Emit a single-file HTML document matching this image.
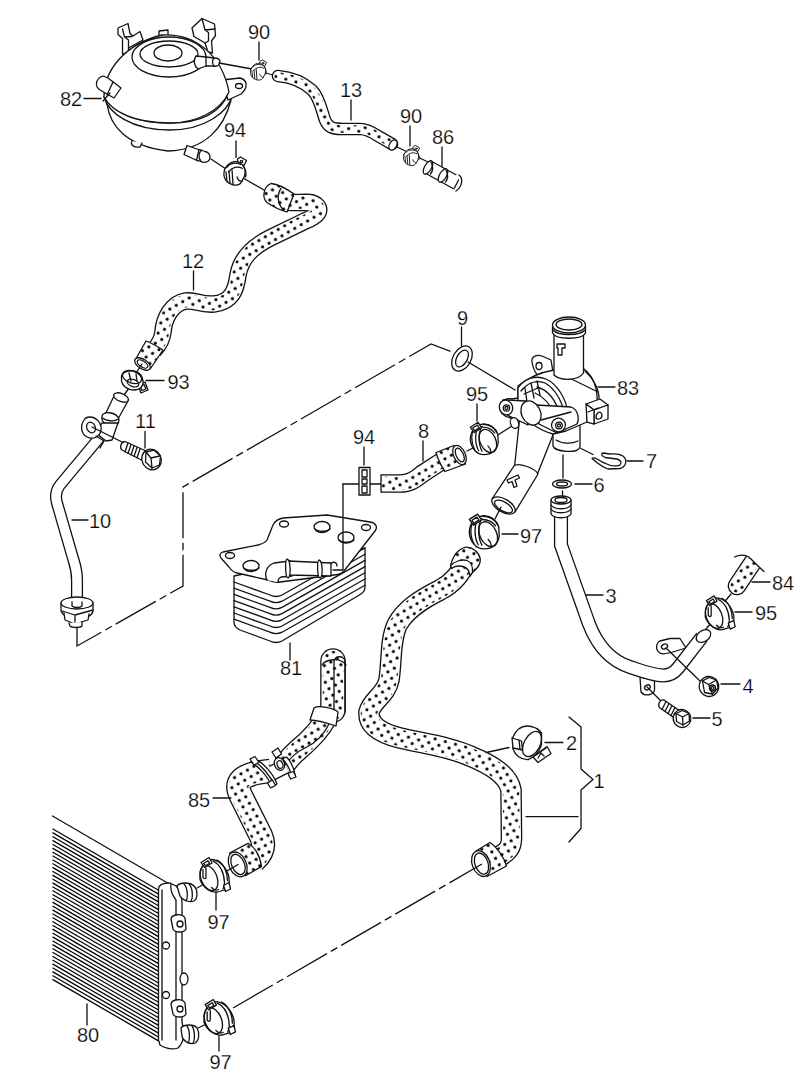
<!DOCTYPE html>
<html><head><meta charset="utf-8">
<style>
html,body{margin:0;padding:0;background:#fff;width:800px;height:1088px;overflow:hidden}
svg{position:absolute;left:0;top:0}
.l{fill:none;stroke:#111;stroke-width:1.3;stroke-linejoin:round;stroke-linecap:round}
.w{fill:#fff;stroke:#111;stroke-width:1.3;stroke-linejoin:round}
.t{font-family:"Liberation Sans",sans-serif;font-size:20px;fill:#000;stroke:#fff;stroke-width:0.25}
.d{fill:none;stroke:#111;stroke-width:1.3;stroke-dasharray:46 4.5 7.5 4.5}
</style></head><body>
<svg width="800" height="1088" viewBox="0 0 800 1088">
<defs>
<pattern id="dots" width="10.5" height="10.5" patternUnits="userSpaceOnUse" patternTransform="rotate(15)">
<rect width="10.5" height="10.5" fill="#fff"/>
<circle cx="2.6" cy="2.6" r="1.55" fill="#000"/>
<circle cx="7.85" cy="7.85" r="1.55" fill="#000"/>
</pattern>
<g id="clp" class="l">
<path class="w" d="M-14.5,-1 C-13.5,-9 -8,-14.5 -3,-15 C5,-14.5 12.5,-7 14.5,3 C15.5,9 13.5,13 10,15.5 L3,17.5 C-4,18.5 -11.5,13 -14.5,5 Z"/>
<ellipse cx="-5.5" cy="3.5" rx="8" ry="13.2" transform="rotate(-22 -5.5 3.5)"/>
<path d="M-1.5,-13.5 C5.5,-10 9.5,-2 10,8 C10,11 9.5,13 8.5,14.5 M2.5,-14.5 C9,-11 13,-3 13,6"/>
<path d="M-11.5,-5 L-11.5,3 C-10.5,4.5 -9,4.5 -8.5,3 L-8.5,-6.5 M-3,13 C-1,15.5 2,16 4,15"/>
<path class="w" d="M-13.5,-12 L-5.5,-17 L-2.5,-11.5 L-10,-7 Z"/>
<path d="M-11,-11 L-6.5,-13.8 L-5,-11.2 L-9,-8.7 Z"/>
<path class="w" d="M9,11 L14.5,8 L16,14.5 L11,17 Z"/>
</g>
<g id="c94" transform="translate(-234.5 -171)">
<g class="l">
<path class="w" d="M237.5,159 L240.5,157 L246.5,160.5 L244,165.5 L238,163 Z"/>
<circle cx="241.5" cy="161.5" r="1.2"/>
<path class="w" d="M224.5,170 C222.5,177 225.5,183 234,185 C238,185.5 241,183.5 242,181 L244.5,176 C246,170 244,165 240,163 C235,160 228,162 224.5,170 Z"/>
<path d="M226.5,167.5 C230,163 236,162 240.5,164.5 M228.5,172 C232,167 238,166 242.5,168.5"/>
<path d="M226,172 L227,181 M229,171 L230,183 M232,170 L233,184"/>
<path d="M243,166 C246,169 246.5,174 245.5,177 M237,177 C238,180 240,181.5 242,181"/>
</g>
</g>
<g id="clp2" class="l">
<path class="w" d="M-14,2 C-14,-8 -8,-14 0,-14.5 C7,-14 12,-10 14,-4 L14.5,4 C14,12 8,17 0,17 C-8,17 -13,10 -14,2 Z"/>
<path d="M-9.5,-11 C-13.5,-5 -13.5,5 -9.5,12 M-5.5,-12 C-9.5,-6 -9.5,6 -5.5,13 M-2,-12 C-6,-6 -6,6 -2,13.5"/>
<ellipse cx="4" cy="3" rx="8" ry="12.5" transform="rotate(-25 4 3)"/>
<path d="M-1,-14 C5,-14 10,-11 13,-6 M-1.5,-11 C4,-11 8,-9 11,-5"/>
<path d="M4,8 C6,10 7,12 7,14"/>
<path class="w" d="M-14,-11 L-6,-16 L-2.5,-10.5 L-10,-5.5 Z"/>
<path d="M-11.5,-10.2 L-6.8,-13.2 L-4.8,-10.3 L-9.5,-7.3 Z"/>
</g>
</defs>


<!-- TANK 82 -->
<g class="l">
<!-- brackets -->
<path class="w" d="M118,28 L128,23.5 L130,33.5 L133,36 L140,31.5 L143,40 L128.5,48 L128.5,53 L122.5,54 L122.5,38.5 L118,34.5 Z"/>
<path d="M122.5,29 L124.5,37 L128.5,40 L128.5,48 M124.5,37 L132,36.5"/>
<path class="w" d="M192,28 L202,18.5 L214.5,24 L215.5,35.5 L211.5,41 L212.5,53 L208,52 L205,43 L194,36.5 Z"/>
<path d="M202,18.5 L205,30 L208.5,32.5 L208.5,41 L205,43 M205,30 L215,29"/>
<!-- nub top -->
<path class="w" d="M159,36 L159,31 L168,30 L168,36"/>
<!-- lower bowl -->
<path class="w" d="M107,104 C110,125 125,146 168,151 C205,150 224,128 231,100 Z"/>
<!-- band -->
<path class="w" d="M104,97 C108,112 130,130 170,130 C205,130 228,112 232,96 C232,90 230,88 229,87 L110,90 Z"/>
<path d="M105,99 C115,112 135,123 170,123 C205,123 222,110 229,92"/>
<!-- ear right -->
<path class="w" d="M222,80 L240,78 C248,80 248,88 241,94 L228,100 Z"/>
<ellipse cx="239" cy="86" rx="3.5" ry="2.5"/>
<!-- dome -->
<path class="w" d="M104,97 C104,70 125,44 162,35 C195,33 222,55 229,92 C220,112 195,123 170,123 C135,123 112,112 104,97 Z"/>
<!-- cap -->
<ellipse class="w" cx="169" cy="57" rx="37" ry="20"/>
<ellipse cx="169" cy="54" rx="29" ry="13"/>
<ellipse cx="168" cy="53" rx="14" ry="8"/>
<!-- left nipple 82 -->
<path class="w" d="M103,76 C96,78 94,86 100,90 L114,98 L121,88 L108,78 Z"/>
<path d="M113,82 L107,95"/>
<path d="M103,101 L110,93"/>
<!-- right nipple -->
<path class="w" d="M196,56 C193,60 194,66 198,69 L206,66 L213,66 C217,67 220,65 220,62 C220,59 218,58 214,58 L206,57 Z"/>
<path d="M206,57 L206,66 M214,58 C212,60 212,64 214,66"/>
<!-- bottom nubs -->
<path class="w" d="M132,141 C130,145 134,148 140,147 L142,143"/>
<!-- bottom nipple -->
<path class="w" d="M187,145.5 L201,150.5 L198,161 L184,154.5 Z"/>
<path class="w" d="M199,149.5 L205,151.5 C209,152 211,156 209.5,159.5 C208,162.5 204,163 201,161.5 L196.5,160 Z"/>
<path d="M201.5,150 C198.5,153 198,158 201,161.5"/>
</g>


<!-- HOSE 13 + clamps 90 + 86 -->
<g class="l">
<path d="M84,98.5 L101,98.5"/>
<path d="M219,63 L252,69 M266,73 L276,76"/>
<path d="M393,145 L430,163"/>
<path d="M259,42 L259,60 M351,100 L351,120 M410,126 L410,146 M442,147 L442,167"/>
</g>
<g>
<path d="M278,76 C290,77 303,82 312,90 C320,98 322,112 325,120 C328,127 332,129 342,129 L360,129 C366,129 372,132 378,136 L392,144" fill="none" stroke="#111" stroke-width="12.6" stroke-linecap="round"/>
<path d="M278,76 C290,77 303,82 312,90 C320,98 322,112 325,120 C328,127 332,129 342,129 L360,129 C366,129 372,132 378,136 L392,144" fill="none" stroke="#fff" stroke-width="10.0" stroke-linecap="round"/>
<path d="M278,76 C290,77 303,82 312,90 C320,98 322,112 325,120 C328,127 332,129 342,129 L360,129 C366,129 372,132 378,136 L392,144" fill="none" stroke="url(#dots)" stroke-width="7.4" stroke-linecap="round"/>
<ellipse class="w" cx="393" cy="145" rx="3.5" ry="5.5" transform="rotate(30 393 145)"/>
</g>
<!-- clamp 90 a -->
<use href="#c94" transform="translate(258 70) scale(0.72)"/>
<use href="#c94" transform="translate(411 155.5) scale(0.72)"/>
<!-- 86 connector -->
<g class="l">
<path class="w" d="M431,161 L460,177 L454,189 L425,173 Z"/>
<ellipse class="w" cx="428" cy="167.5" rx="3.5" ry="7.5" transform="rotate(30 428 167.5)"/>
<path d="M431,162 C433,166 433,171 430.5,174"/>
<ellipse class="w" cx="443" cy="175.5" rx="3.5" ry="7.5" transform="rotate(30 443 175.5)"/>
<path d="M446,170 C448,174 448,179 445.5,182"/>
<path d="M457,176 C462,178 463,186 455,190" stroke="#fff" stroke-width="3"/>
<path d="M459,175 C463,178 463,186 456,191"/>
</g>
<!-- HOSE 12 -->
<g class="l"><path d="M211,159 L226,169 M238,175 L264,190 M236,141 L236,157.5 M146,380.5 L164,380.5 M193.5,271 L193.5,290"/></g>
<path d="M286,202 C300,204 310,200 316,205 C322,210 318,216 305,221 L270,238 C252,247 241,258 238,275 C236,290 232,302 214,304 C200,305 196,300 186,301 C172,303 164,318 163,332 C162,340 158,346 154,350" fill="none" stroke="#111" stroke-width="17.6" />
<path d="M286,202 C300,204 310,200 316,205 C322,210 318,216 305,221 L270,238 C252,247 241,258 238,275 C236,290 232,302 214,304 C200,305 196,300 186,301 C172,303 164,318 163,332 C162,340 158,346 154,350" fill="none" stroke="#fff" stroke-width="15.0" />
<path d="M286,202 C300,204 310,200 316,205 C322,210 318,216 305,221 L270,238 C252,247 241,258 238,275 C236,290 232,302 214,304 C200,305 196,300 186,301 C172,303 164,318 163,332 C162,340 158,346 154,350" fill="none" stroke="url(#dots)" stroke-width="12.4" />
<path class="w" style="fill:url(#dots)" d="M271,183.5 C277,184 287,189 294,194 L287,212 C280,210 272,206 267,202.5 C262,198 263,187 271,183.5 Z"/>
<path class="l" d="M281,188.5 C277,194 277,203 283,209.5"/>
<path class="w" style="fill:url(#dots)" d="M146,341 C152,343 158,347 163,350 L150.5,368.5 L135.5,359.5 Z"/>
<ellipse class="w" cx="142.5" cy="364" rx="8.8" ry="4.8" transform="rotate(33 142.5 364)"/>
<ellipse class="l" cx="142.5" cy="364" rx="6" ry="3" transform="rotate(33 142.5 364)"/>
<g class="l"><path d="M142,364 L137,371.5 M128,389.5 L124,395"/></g>
<!-- clamp 94 top -->
<use href="#c94" transform="translate(234.5 171)"/>
<!-- clamp 93 -->
<g class="l">
<path class="w" d="M138,385 L145,382 L148,390 L141,393 Z"/>
<path d="M140,386 L144,384.5 L146,389 L142,390.5 Z"/>
<path class="w" d="M121.5,379 C121,385 127,390 134,390 C140,390 144,386 143,381 L142,377 C140,372 134,370 128,371 C123,372 121,375 121.5,379 Z"/>
<ellipse cx="132" cy="377" rx="10" ry="6" transform="rotate(20 132 377)"/>
<ellipse cx="133" cy="383" rx="6" ry="3.5" transform="rotate(20 133 383)"/>
<path d="M129,373 L131,381 M136,374 L137,381"/>
</g>
<!-- PIPE 10 -->
<path d="M100,437 L60,485 C56,490 55,496 57,503 L73.5,560 C75.5,566 77,572 77,580 L77,602" fill="none" stroke="#111" stroke-width="12.1" />
<path d="M100,437 L60,485 C56,490 55,496 57,503 L73.5,560 C75.5,566 77,572 77,580 L77,602" fill="none" stroke="#fff" stroke-width="9.5" />
<g class="l">
<path class="w" d="M113.5,397 L104.5,416 L117.5,420 L128.5,400 Z"/>
<ellipse class="w" cx="121" cy="397.5" rx="7.8" ry="4" transform="rotate(22 121 397.5)"/>
<path class="w" d="M102,416 C101,420 103,424 110,425.5 C116,426.5 119,424 119,420 L118,417 C114,412 104,411 102,416 Z"/>
<path d="M102.5,418 C106,421 114,422 118.5,419"/>
<path class="w" d="M102,423 L96,433 L106,441 L112,440 L118,423 Z"/>
<path class="w" d="M84,420 C80,426 81,434 87,437 C93,440 100,437 101,430 C102,423 96,417 90,417 C87,417 85,418 84,420 Z"/>
<ellipse cx="91" cy="427.5" rx="4.2" ry="5.5" transform="rotate(-25 91 427.5)"/>
<path d="M96,436 L104,441 L100,448"/>
<path d="M92,427 L122,442"/>
<path d="M145,431.5 L145,448 M72,520 L88,520"/>
</g>
<!-- bolt 11 -->
<g class="l">
<path class="w" d="M125,441.5 L145,450.5 L141.5,460 L122,450 C119.5,448 120.5,442 125,441.5 Z"/>
<path d="M128,443 L125,452 M131,444.5 L128,453.5 M134,446 L131,455 M137,447.5 L134,456.5 M140,449 L137,458"/>
<ellipse class="w" cx="151.5" cy="459.5" rx="9.5" ry="10.5" transform="rotate(-30 151.5 459.5)"/>
<path class="w" d="M146,452 L154,450 L160.5,456 L159.5,465 L152,468 L145.5,462 Z"/>
<path d="M146,452 L151,458 L159.5,456 M151,458 L152,468"/>
</g>
<!-- flange 10 -->
<g class="l">
<path class="w" d="M61,603 L61,611 C63,616 70,619 77,619 C85,619 92,616 93,611 L93,603 Z"/>
<ellipse class="w" cx="77" cy="603" rx="16" ry="6"/>
<path class="w" d="M64,613 L65,620 L75,624 L88,620 L89,614"/>
<path d="M62,611 L75,615 L93,610 M75,615 L75,624"/>
<path class="w" d="M69,623 L70,626 C72,628 80,628 82,626 L82,622"/>
<path d="M72,602 L72,606 C74,608 80,608 82,606 L82,602"/>
</g>
<!-- DASHED -->
<path class="d" d="M77,628 L77,646 L183,586 L183,487 L431,344 L452,352"/>

<!-- OIL COOLER 81 -->
<g class="l">
<path class="w" d="M234,576 L234,622 C234,626 236,628 240,630 L270,641 C274,643 278,643 282,641 L361,594 C364,592 365,590 365,587 L365,548 Z"/>
<path d="M234,582.0 L270,595.0 C274,597.0 278,597.0 282,595.0 L365,548.0"/>
<path d="M234,588.2 L270,601.2 C274,603.2 278,603.2 282,601.2 L365,554.2"/>
<path d="M234,594.4 L270,607.4 C274,609.4 278,609.4 282,607.4 L365,560.4"/>
<path d="M234,600.6 L270,613.6 C274,615.6 278,615.6 282,613.6 L365,566.6"/>
<path d="M234,606.8 L270,619.8 C274,621.8 278,621.8 282,619.8 L365,572.8"/>
<path d="M234,613.0 L270,626.0 C274,628.0 278,628.0 282,626.0 L365,579.0"/>
<path d="M234,619.2 L270,632.2 C274,634.2 278,634.2 282,632.2 L365,585.2"/>
<path class="w" d="M223,552 L258,545 C262,544 265,543 267,540 L273,525 C275,521 278,519 283,518 L327,515 L370,522 C376,523 378,527 375,531 L344,571 C341,574 338,575 334,575 L280,582 C276,583 272,582 268,580 L237,573 C233,572 231,570 229,567 L221,558 C219,555 220,553 223,552 Z"/>
<ellipse cx="284" cy="524" rx="4.5" ry="3"/>
<ellipse cx="322" cy="527" rx="8" ry="5.5"/><path d="M315,529 C318,532 327,532 330,529"/>
<ellipse cx="366" cy="527.5" rx="4.5" ry="3"/>
<ellipse cx="346" cy="537.5" rx="8" ry="5.5"/><path d="M339,540 C342,543 351,543 354,540"/>
<ellipse cx="230" cy="555.5" rx="4.5" ry="3"/>
<ellipse cx="251" cy="566" rx="8" ry="5.5"/><path d="M244,568 C247,571 256,571 259,568"/>
<path class="w" d="M267,580 C264,574 266,566 274,563 L290,561 L292,576 L281,577 C279,578 278,580 278,582"/>
<path class="w" d="M288,561 L331,563 L331,576 L288,575 Z"/>
<path class="w" d="M287,559 C285,560 285,577 288,578 C291,578 291,560 287,559 Z"/>
<path class="w" d="M319,560 C317,561 317,577 320,578 C323,578 323,561 319,560 Z"/>
<path d="M343,484 L343,570 L333,570 M331,564 C333,561 337,562 337,566"/>
<path d="M343,484 L359,484 M370,484 L381,484 M364,447 L364,465 M290,643 L290,660"/>
</g>
<!-- clip 94 mid -->
<g class="l">
<rect class="w" x="359" y="467.5" width="11" height="27.5"/>
<rect x="362" y="470" width="5" height="7"/>
<rect x="362" y="479" width="5" height="5"/>
<rect x="362" y="486" width="5" height="7"/>
</g>
<!-- HOSE 8 -->
<path d="M381,483.5 L400,483.5 C410,483.5 414,480 422,474 L442,461" fill="none" stroke="#111" stroke-width="18.6" />
<path d="M381,483.5 L400,483.5 C410,483.5 414,480 422,474 L442,461" fill="none" stroke="#fff" stroke-width="16" />
<path d="M381,483.5 L400,483.5 C410,483.5 414,480 422,474 L442,461" fill="none" stroke="url(#dots)" stroke-width="13.4" />
<g class="l">
<path d="M381,475 L381,492"/>
<path class="w" style="fill:url(#dots)" d="M436,452.5 L454,445.5 L465.5,464 L445,471.5 C441,466 438,459 436,452.5 Z"/>
<ellipse class="w" cx="459.5" cy="455" rx="5.8" ry="10.2" transform="rotate(-25 459.5 455)"/>
<ellipse cx="459.8" cy="455" rx="3.6" ry="7.4" transform="rotate(-25 459.8 455)"/>
<path d="M467,451 L474,447.5 M490,440 L512,426 M423,441 L423,461 M477,404 L477,421"/>
</g>
<!-- clamp 95 mid -->
<use href="#clp2" transform="translate(484 438) scale(0.98)"/>
<!-- RING 9 -->
<g class="l">
<ellipse class="w" cx="462" cy="358.5" rx="9" ry="13.5" transform="rotate(30 462 358.5)"/>
<ellipse cx="462" cy="358.5" rx="5.2" ry="9.2" transform="rotate(30 462 358.5)"/>
<path d="M461.5,327 L461.5,346 M468,362 L515,390"/>
</g>

<!-- THERMOSTAT 83 -->
<g class="l">
<!-- outlet pipe thin -->
<path class="w" d="M520,415 L514.5,467 L537,475 L555,430 Z"/>
<!-- outlet pipe thick -->
<path class="w" d="M514,466 C518,462 535,468 538,474 L515,512 L492,499 Z"/>
<ellipse class="w" cx="503.5" cy="505.5" rx="13" ry="6.5" transform="rotate(30 503.5 505.5)"/>
<ellipse cx="503.5" cy="506.5" rx="10" ry="4.5" transform="rotate(30 503.5 506.5)"/>
<path d="M507,480 L518,475 L519.5,478 L515,480 L517,486 L514,487.5 L512,481.5 L508.5,483 Z"/>
<!-- lower outlet -->
<path class="w" d="M553,425 L553,446 C555,452 578,454 580,447 L580,425 Z"/>
<path d="M556,440 C562,444 572,444 578,441"/>
<!-- left ear -->
<path class="w" d="M532,362 C531,357 536,354 542,356 L551,360 L553,372 L540,377 C535,374 533,368 532,362 Z"/>
<ellipse cx="539" cy="366" rx="3" ry="3.5"/>
<!-- body -->
<path class="w" d="M518,386 C528,378 542,372 554,370 L584,369 C593,376 598,388 597,401 L587,404 L587,422 L566,431 L553,434 C545,432 538,428 532,424 L512,418 C503,417 499,412 500,406 C501,400 507,398 512,399 L518,398 Z"/>
<path d="M585,371 C593,378 600,390 599,401"/>
<path d="M555,371 L598,392"/>
<!-- right ear box -->
<path class="w" d="M586,404 L600,399 L608,405 L594,410 Z"/>
<path class="w" d="M594,410 L608,405 L608,419 L594,424 Z"/>
<path class="w" d="M586,404 L594,410 L594,424 L587,422 Z"/>
<path d="M588,412 L598,408 M596,418 C596,412 601,410 602,415 C602,419 598,420 596,418 Z"/>
<!-- cover -->
<path class="w" d="M518,388 C525,378 536,375 546,379 C557,384 566,398 568,413 L540,424 L518,410 Z"/>
<path d="M521,391 C528,382 537,380 545,383 C554,388 562,400 564,413"/>
<path d="M537,387 C548,390 556,400 559,413 M535,393 C544,397 551,405 554,415"/>
<path d="M525,388 L527,402 M531,383 L534,398 M537,381 L540,395 M524,394 L538,388"/>
<!-- arms -->
<path class="w" d="M503,400 L526,401 L528,425 L507,415 Z"/>
<path class="w" d="M536,405 L571,407 C577,409 580,417 577,424 L557,433 L539,424 Z"/>
<path d="M541,420 L571,412"/>
<ellipse class="w" cx="531" cy="413" rx="9.5" ry="12.5" transform="rotate(-25 531 413)"/>
<ellipse class="w" cx="506" cy="407.5" rx="6.5" ry="7.5" transform="rotate(-20 506 407.5)"/>
<circle cx="506.5" cy="408" r="3.2"/>
<circle cx="506.5" cy="408" r="1.5"/>
<ellipse class="w" cx="558.5" cy="425" rx="7" ry="6.8" transform="rotate(-20 558.5 425)"/>
<circle cx="559" cy="425.5" r="3.3"/>
<circle cx="559" cy="425.5" r="1.5"/>
<ellipse class="w" cx="514.5" cy="423" rx="4" ry="5.5" transform="rotate(-20 514.5 423)"/>
<!-- top pipe -->
<path class="w" d="M554,332 L554,375 C560,381 578,381 583.5,373 L583.5,332 Z"/>
<path class="w" d="M552.5,326 L552.5,333 C556,340 582,340 585.5,333 L585.5,326"/>
<ellipse class="w" cx="569" cy="325" rx="16.5" ry="8"/>
<ellipse cx="569" cy="324.5" rx="13" ry="5.5"/>
<path d="M553,330 C558,336 580,336 585,330"/>
<path d="M557,344 L565,344 L565,348 L562,348 L562,355 L558,355 L558,348 L557,348 Z"/>
<path d="M598,387 L615,387"/>
</g>

<!-- clip 7 -->
<g class="l">
<path d="M581,448.5 L593,454.5"/>
<path class="w" d="M592,458.5 C596,462 602,467 608,469 L620,468.5 C626,467 628,460 623,456 C618,453 612,454 609.5,454 L603.5,453 C601,453 601,456 605,457.5 L617,459 C621,460 622,463 620,465 C618,466.5 611,466 608,464.5 C604,463 600,461 598,459.5 C596,458 594,457 592,458.5 Z"/>
<path d="M627,461 L643,461"/>
</g>

<!-- O-ring 6 -->
<g class="l">
<ellipse class="w" cx="562" cy="484" rx="9.5" ry="4"/>
<ellipse cx="562" cy="484" rx="5.5" ry="2"/>
<path d="M563,455 L563,478 M562.5,491 L562.5,500 M575,484 L592,484"/>
</g>
<!-- PIPE 3 -->
<g class="l">
<path class="w" d="M660,641 C656,643 655,650 660,653 C663,655 670,653 676,651 L686,648 L680,638.5 L670,638.5 Z"/>
<ellipse cx="664.5" cy="646.5" rx="3.2" ry="2.4" transform="rotate(-25 664.5 646.5)"/>
<path class="w" d="M640,677 L654.5,680 L654.5,690 C654,695 645,697 641,692 Z"/>
<ellipse cx="647.4" cy="687.4" rx="3" ry="2.3" transform="rotate(-30 647.4 687.4)"/>
</g>
<path d="M561,514 L561,545 L589,624 C596,642 608,660 630,667 C642,671 652,675 663,675.5 C669,675.5 674,673 678,668 L702,637" fill="none" stroke="#111" stroke-width="14.1" />
<path d="M561,514 L561,545 L589,624 C596,642 608,660 630,667 C642,671 652,675 663,675.5 C669,675.5 674,673 678,668 L702,637" fill="none" stroke="#fff" stroke-width="11.5" />
<g class="l">
<path class="w" d="M551,500 L551,514 C554,519 568,519 571,514 L571,500 Z"/>
<path d="M551,505 C554,510 568,510 571,505 M551,509 C554,514 568,514 571,509"/>
<ellipse class="w" cx="561" cy="500" rx="10" ry="4"/>
<ellipse cx="561" cy="500" rx="6" ry="2.5"/>
<ellipse class="w" cx="703.5" cy="636" rx="8" ry="5.5" transform="rotate(-35 703.5 636)"/>
<path d="M666,648 L700,681 M647,687 L662,702 M721,684 L740,684 M693,718 L710,718 M586,595 L603,595 M735,612 L752,612 M752,582 L770,582"/>
</g>
<!-- nut 4 -->
<g class="l">
<ellipse class="w" cx="709" cy="686.5" rx="9.8" ry="10" transform="rotate(-30 709 686.5)"/>
<path class="w" d="M702.5,681 L709,677.5 L716.5,680 L718,688 L712.5,694 L704.5,692.5 Z"/>
<path d="M702.5,681 L708.5,684.5 L716.5,680 M708.5,684.5 L712.5,694"/>
<circle cx="712.5" cy="688" r="3"/>
<circle cx="712.5" cy="688" r="1.4"/>
</g>
<!-- bolt 5 -->
<g class="l">
<path class="w" d="M664,700 L680,711 L676,719 L660,708 C657,705 660,699 664,700 Z"/>
<path d="M666,701.5 L662,709.5 M669,703.5 L665,711.5 M672,705.5 L668,713.5 M675,707.5 L671,715.5"/>
<ellipse class="w" cx="682" cy="718.5" rx="8.8" ry="9" transform="rotate(-30 682 718.5)"/>
<path class="w" d="M676,713.5 L682.5,710.5 L689,713.5 L689.5,721 L683,725 L676.5,721.5 Z"/>
<path d="M676,713.5 L682.5,717 L689,713.5 M682.5,717 L683,725"/>
</g>
<!-- hose 84 -->
<path d="M757,556 L737,586" fill="none" stroke="#111" stroke-width="18.6" stroke-linecap="round"/>
<path d="M757,556 L737,586" fill="none" stroke="#fff" stroke-width="16" stroke-linecap="round"/>
<path d="M757,556 L737,586" fill="none" stroke="url(#dots)" stroke-width="13.4" stroke-linecap="round"/>
<path d="M722,548 L734.75,557 C741,554 747,555 751,559 C756,564 760,568 764,571.5 L778,566 L765,538 Z" fill="#fff" stroke="none"/>
<path class="l" d="M734.5,557 C741,554 747,555 751,559 C756,564 760,568 764,571.5"/>
<path class="l" d="M731,594 L722,605 M711,623 L706,629"/>
<!-- clamp 95 right -->
<use href="#clp" transform="translate(719.5 612.5) scale(0.98)"/>



<!-- HOSE 1 -->
<g class="l">
<path d="M501,507 L495,519 M485,533 L476,547 M502,534 L518,534"/>
<path d="M475,755 L509,747.5 M545,742.5 L563,742.5 M526,816.7 L578,816.7"/>
<path d="M569,717 L581,727 L581,769 L593,779.5 L581,790 L581,828.5 L569,842"/>
</g>
<path d="M466,560 C462,572 455,582 440,590 C420,600 405,610 397,625 C390,640 392,660 389,680 C386,695 372,700 369,712 C368,725 380,733 400,738 C420,743 445,745 470,756 C492,765 508,775 511,790 L511.5,838 C511.5,848 507,852 500,856" fill="none" stroke="#111" stroke-width="21.6" />
<path d="M466,560 C462,572 455,582 440,590 C420,600 405,610 397,625 C390,640 392,660 389,680 C386,695 372,700 369,712 C368,725 380,733 400,738 C420,743 445,745 470,756 C492,765 508,775 511,790 L511.5,838 C511.5,848 507,852 500,856" fill="none" stroke="#fff" stroke-width="19.0" />
<path d="M466,560 C462,572 455,582 440,590 C420,600 405,610 397,625 C390,640 392,660 389,680 C386,695 372,700 369,712 C368,725 380,733 400,738 C420,743 445,745 470,756 C492,765 508,775 511,790 L511.5,838 C511.5,848 507,852 500,856" fill="none" stroke="url(#dots)" stroke-width="16.4" />
<g class="l">
<path class="w" style="fill:url(#dots)" d="M450.6,565.5 C453,556 458,549 466,547.2 C472.5,547 478.5,551.5 480.2,558.5 C481,563.5 477.5,568.5 472.5,572.5 C470,566 465,563 458,563 C455,563.5 452.5,564.5 450.6,565.5 Z"/>
<path class="w" d="M450.6,565.5 C455,561 462,559 467,560.5 C471,562 473,567 472.5,572.5 L470,576 C469.5,571 467,567.5 463,566.5 C458.5,565.5 454,566.5 451.5,568.5 Z"/>
</g>

<g class="l">
<path class="w" style="fill:url(#dots)" d="M476,851 L490,842.5 C497,847 504,857 506.5,866 L487,876.5 Z"/>
<ellipse class="w" cx="481" cy="863.6" rx="8.8" ry="13.3" transform="rotate(-20 481 863.6)"/>
<ellipse cx="481.5" cy="863.6" rx="6.5" ry="11" transform="rotate(-20 481.5 863.6)"/>
</g>
<!-- clamp 97 upper -->
<use href="#clp2" transform="translate(484 531) scale(1.05)"/>
<!-- clip 2 -->
<g class="l">
<path class="w" d="M533,757 L547,746.5 L551,753.5 L538,762.5 Z"/>
<path d="M536,755 L546,748 M538,758 L541,753 L544,756"/>
<path class="w" d="M512.75,737.5 C516,730 521,726 527,726 C533,726 539,729 541.5,733 L541.5,745 C539,752 534,757 528.5,759.5 C521,760 515,755 513,749 Z"/>
<ellipse cx="532" cy="744" rx="8" ry="13.5" transform="rotate(28 532 744)"/>
<path class="w" d="M512,738 L521.5,741 L522.5,750 L513,748 Z"/>
<path d="M519,740 L520,749 M537,728.5 L541.5,733"/>
</g>
<!-- HOSE 85 -->
<path d="M333,710 L333,661" fill="none" stroke="#111" stroke-width="25.6" stroke-linecap="round"/>
<path d="M333,710 L333,661" fill="none" stroke="#fff" stroke-width="23" stroke-linecap="round"/>
<path d="M333,710 L333,661" fill="none" stroke="url(#dots)" stroke-width="20.4" stroke-linecap="round"/>
<path class="l" d="M334,712 L334,662 C334,655 345,655 345,662 L345,712" />
<path class="l" d="M322,665 C326,659 340,657 346,665" />
<path d="M326,718 C320,730 310,740 298,750 C292,755 288,760 285,764" fill="none" stroke="#111" stroke-width="22.6" />
<path d="M326,718 C320,730 310,740 298,750 C292,755 288,760 285,764" fill="none" stroke="#fff" stroke-width="20" />
<path d="M326,718 C320,730 310,740 298,750 C292,755 288,760 285,764" fill="none" stroke="url(#dots)" stroke-width="17.4" />
<path class="l" d="M330,722 C325,733 318,742 305,748 C296,752 288,760 282,770"/>
<path class="w" d="M314,708 C318,705 334,708 338,712 L336,726 C330,724 316,720 310,720 Z" stroke="#111" stroke-width="1.3"/>
<path d="M286,766 L264,777" fill="none" stroke="#111" stroke-width="15.6" />
<path d="M286,766 L264,777" fill="none" stroke="#fff" stroke-width="13" />
<path d="M270,771 C258,772 248,774 242,779 C237,784 238,790 241,796 L261,836 C264,843 265,851 254,861" fill="none" stroke="#111" stroke-width="24.6" />
<path d="M270,771 C258,772 248,774 242,779 C237,784 238,790 241,796 L261,836 C264,843 265,851 254,861" fill="none" stroke="#fff" stroke-width="22" />
<path d="M270,771 C258,772 248,774 242,779 C237,784 238,790 241,796 L261,836 C264,843 265,851 254,861" fill="none" stroke="url(#dots)" stroke-width="19.4" />
<g class="l">
<path class="w" style="fill:url(#dots)" d="M229.6,853 L248,843.4 C254,846 260,855 261.5,866.6 L245.4,875.7 Z"/>
<ellipse class="w" cx="237.7" cy="864.4" rx="8.6" ry="13" transform="rotate(-24 237.7 864.4)"/>
<ellipse cx="238" cy="864.4" rx="6.3" ry="10.7" transform="rotate(-24 238 864.4)"/>
<path d="M213,798 L231,798"/>
<!-- clamps on 85 -->
<path class="w" d="M250.5,762 C258,766 268,776 272,787 L277,784 C273,773 263,763 255.5,759 Z"/>
<path d="M253,760.5 C261,765 270,775 274.5,785.5"/>
<path class="w" d="M250,759 L255,756.5 L259,762.5 L254,765 Z"/>
<path class="w" d="M267.5,783 L272.5,780 L275.5,785.5 L270.5,788 Z"/>
<path class="w" d="M282.5,759 C286.5,763 290.5,770 291.5,777 L295,775 C294,768 290.5,761 286.5,757 Z"/>
<path class="w" d="M288,773.5 L293.5,771.5 L296,777 L290.5,779 Z"/>
<ellipse class="w" cx="279.5" cy="764" rx="5" ry="6.5" transform="rotate(-20 279.5 764)"/>
<ellipse cx="280" cy="764.5" rx="2.8" ry="4" transform="rotate(-20 280 764.5)"/>
<path class="w" d="M272,752 L278,748 L281.5,754 L276,758 Z"/>
</g>

<!-- RADIATOR 80 -->
<g class="l">
<path d="M52.5,816 L168.5,883.5"/>
</g>
<g fill="none" stroke="#000" stroke-width="1.25">
<path d="M52.5,828.80 L158.5,890.30"/><path d="M52.5,832.66 L158.5,894.16"/><path d="M52.5,836.52 L158.5,898.02"/><path d="M52.5,840.38 L158.5,901.88"/><path d="M52.5,844.24 L158.5,905.74"/><path d="M52.5,848.10 L158.5,909.60"/><path d="M52.5,851.96 L158.5,913.46"/><path d="M52.5,855.82 L158.5,917.32"/><path d="M52.5,859.68 L158.5,921.18"/><path d="M52.5,863.54 L158.5,925.04"/><path d="M52.5,867.40 L158.5,928.90"/><path d="M52.5,871.26 L158.5,932.76"/><path d="M52.5,875.12 L158.5,936.62"/><path d="M52.5,878.98 L158.5,940.48"/><path d="M52.5,882.84 L158.5,944.34"/><path d="M52.5,886.70 L158.5,948.20"/><path d="M52.5,890.56 L158.5,952.06"/><path d="M52.5,894.42 L158.5,955.92"/><path d="M52.5,898.28 L158.5,959.78"/><path d="M52.5,902.14 L158.5,963.64"/><path d="M52.5,906.00 L158.5,967.50"/><path d="M52.5,909.86 L158.5,971.36"/><path d="M52.5,913.72 L158.5,975.22"/><path d="M52.5,917.58 L158.5,979.08"/><path d="M52.5,921.44 L158.5,982.94"/><path d="M52.5,925.30 L158.5,986.80"/><path d="M52.5,929.16 L158.5,990.66"/><path d="M52.5,933.02 L158.5,994.52"/><path d="M52.5,936.88 L158.5,998.38"/><path d="M52.5,940.74 L158.5,1002.24"/><path d="M52.5,944.60 L158.5,1006.10"/><path d="M52.5,948.46 L158.5,1009.96"/><path d="M52.5,952.32 L158.5,1013.82"/><path d="M52.5,956.18 L158.5,1017.68"/><path d="M52.5,960.04 L158.5,1021.54"/><path d="M52.5,963.90 L158.5,1025.40"/><path d="M52.5,967.76 L158.5,1029.26"/><path d="M52.5,971.62 L158.5,1033.12"/><path d="M52.5,975.48 L158.5,1036.98"/><path d="M52.5,979.34 L158.5,1040.84"/>
</g>
<g class="l">
<path class="w" d="M158.5,889 C158.5,885 163,883 170,883 L176,886 C180,889 182,895 182,903 L182,1022 C184,1030 186,1040 178,1048 C172,1050 165,1048 160,1045 L158.5,1040 Z"/>
<path d="M162,890 L162,1040 M171,884 C170,890 172,895 176,900 L176,1040"/>
<path class="w" d="M177,886 C180,882 190,882 194,886 C198,890 198,898 194,901 C190,903 182,900 180,896 Z"/>
<path d="M184,884 C188,888 188,898 186,901 M189,884 C193,888 193,898 191,901"/>
<path class="w" d="M181,1028 C184,1024 194,1024 197,1028 C200,1033 199,1041 195,1043 C190,1045 183,1041 182,1036 Z"/>
<path d="M187,1026 C190,1030 190,1040 188,1043 M192,1026 C195,1030 195,1040 193,1043"/>
<path class="w" d="M171,919 C172,914 182,913 185,918 L186,929 C184,933 175,933 173,929 Z"/>
<circle cx="180" cy="924" r="3"/>
<path class="w" d="M171,1004 C172,999 182,998 185,1003 L186,1014 C184,1018 175,1018 173,1014 Z"/>
<circle cx="180" cy="1009" r="3"/>
<circle class="w" cx="166" cy="945.5" r="3.5"/>
<circle class="w" cx="166" cy="995" r="3.5"/>
<ellipse class="w" cx="184" cy="979" rx="4" ry="6"/>
<path d="M197,888 L213,879 M227,871 L238,864.5 M198,1028 L217,1019 M216,892 L216,910 M219,1034 L219,1051 M87,1004 L87,1025"/>
</g>
<!-- clamps 97 radiator -->
<use href="#clp" transform="translate(214.5 874.5)"/>
<use href="#clp" transform="translate(219 1017) scale(1.03)"/>
<path class="d" d="M233,1008 L482,864"/>

<!-- LABELS -->
<g class="t">
<text x="60" y="106">82</text>
<text x="248" y="38.5">90</text>
<text x="340" y="97">13</text>
<text x="400" y="123">90</text>
<text x="432" y="144">86</text>
<text x="224" y="136.5">94</text>
<text x="182" y="267.5">12</text>
<text x="167.5" y="388.5">93</text>
<text x="135" y="427.5">11</text>
<text x="89" y="527.5">10</text>
<text x="457" y="325">9</text>
<text x="353" y="444">94</text>
<text x="418" y="438">8</text>
<text x="466" y="401">95</text>
<text x="617" y="395">83</text>
<text x="646" y="468">7</text>
<text x="593.5" y="492">6</text>
<text x="520" y="542.5">97</text>
<text x="605.5" y="602.5">3</text>
<text x="772" y="590">84</text>
<text x="755" y="620">95</text>
<text x="742.5" y="692.5">4</text>
<text x="711.5" y="726">5</text>
<text x="280" y="675">81</text>
<text x="566" y="750">2</text>
<text x="593.5" y="788">1</text>
<text x="188" y="806.5">85</text>
<text x="207.5" y="929">97</text>
<text x="77" y="1042">80</text>
<text x="209.5" y="1069">97</text>
</g>

</svg>
</body></html>
